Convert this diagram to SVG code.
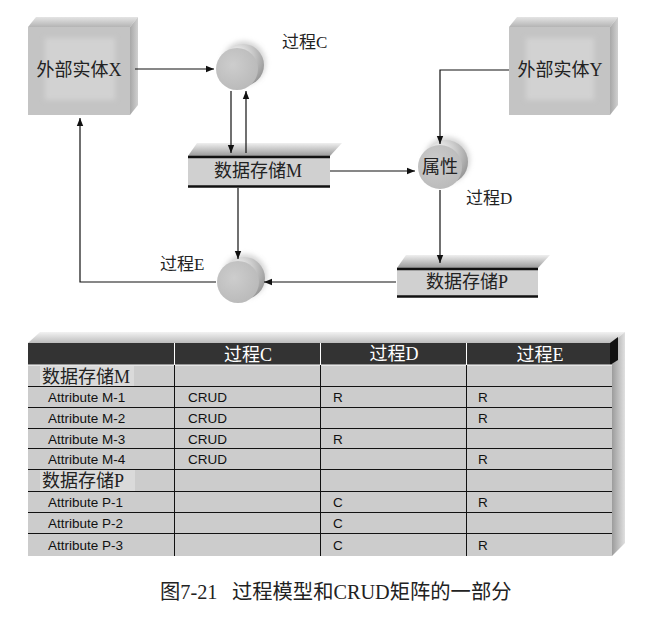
<svg xmlns="http://www.w3.org/2000/svg" width="655" height="617" viewBox="0 0 655 617">
<style>
.cjk{font-family:"Liberation Serif","Noto Sans CJK SC",serif;font-size:18px;fill:#222}
.cap{font-family:"Liberation Serif","Noto Sans CJK SC",serif;font-size:20.3px;fill:#222}
.lbl{font-family:"Liberation Serif","Noto Sans CJK SC",serif;font-size:17px;fill:#222}
.cell{font-family:"Liberation Sans",Arial,sans-serif;font-size:13.5px;fill:#111}
.hdr{font-family:"Liberation Serif","Noto Sans CJK SC",serif;font-size:18px;fill:#fff}
.conn{fill:none;stroke:#111;stroke-width:1.2}
.rowline{stroke:#111;stroke-width:1}
</style>
<defs>
<marker id="ah" viewBox="0 0 10 10" refX="10" refY="5" markerWidth="8" markerHeight="8" markerUnits="userSpaceOnUse" orient="auto">
<path d="M0,1 L10,5 L0,9 Z" fill="#111"/>
</marker>
<linearGradient id="topFace" x1="0" y1="0" x2="0" y2="1">
<stop offset="0" stop-color="#e4e4e4"/><stop offset="1" stop-color="#b4b4b4"/>
</linearGradient>
<linearGradient id="rightFace" x1="0" y1="0" x2="1" y2="0">
<stop offset="0" stop-color="#a8a8a8"/><stop offset="1" stop-color="#d0d0d0"/>
</linearGradient>
<linearGradient id="bevel" x1="0" y1="0" x2="0" y2="1">
<stop offset="0" stop-color="#efefef"/><stop offset="1" stop-color="#9a9a9a"/>
</linearGradient>
<radialGradient id="rim" cx="0.35" cy="0.3" r="0.8">
<stop offset="0" stop-color="#ffffff"/><stop offset="0.5" stop-color="#c8c8c8"/><stop offset="1" stop-color="#8e8e8e"/>
</radialGradient>
<radialGradient id="face" cx="0.4" cy="0.4" r="0.7">
<stop offset="0" stop-color="#cdcdcd"/><stop offset="1" stop-color="#b8b8b8"/>
</radialGradient>
<linearGradient id="tblTop" x1="0" y1="0" x2="0" y2="1">
<stop offset="0" stop-color="#f2f2f2"/><stop offset="1" stop-color="#bdbdbd"/>
</linearGradient>
<linearGradient id="tblRight" x1="0" y1="0" x2="1" y2="0">
<stop offset="0" stop-color="#9c9c9c"/><stop offset="1" stop-color="#e0e0e0"/>
</linearGradient>
<filter id="soft" x="-0.3" y="-0.3" width="1.6" height="1.6"><feGaussianBlur stdDeviation="2.5"/></filter>
</defs>
<rect width="655" height="617" fill="#fff"/>

<g id="entityX">
<polygon points="28,27 36,17 138,17 130,27" fill="url(#topFace)"/>
<polygon points="130,27 138,17 138,105 130,115" fill="url(#rightFace)"/>
<rect x="28" y="27" width="102" height="88" fill="#c4c4c4"/>
<rect x="45" y="38" width="70" height="62" fill="#d2d2d2" filter="url(#soft)"/>
<text class="cjk" x="79" y="76" text-anchor="middle">外部实体X</text>
</g>

<g id="entityY">
<polygon points="509,27 517,17 618,17 610,27" fill="url(#topFace)"/>
<polygon points="610,27 618,17 618,105 610,115" fill="url(#rightFace)"/>
<rect x="509" y="27" width="101" height="88" fill="#c4c4c4"/>
<rect x="526" y="38" width="68" height="62" fill="#d2d2d2" filter="url(#soft)"/>
<text class="cjk" x="560" y="76" text-anchor="middle">外部实体Y</text>
</g>

<g id="processC">
<circle cx="244" cy="63" r="22" fill="#bbb" filter="url(#soft)" opacity="0.6"/>
<circle cx="243" cy="65" r="21" fill="url(#rim)"/>
<circle cx="237" cy="69" r="21" fill="url(#face)"/>
<text class="lbl" x="282" y="48">过程C</text>
</g>

<g id="storeM">
<polygon points="188,156 197,143 342,143 330,156" fill="url(#bevel)"/>
<rect x="188" y="156" width="142" height="31" fill="#d0d0d0"/>
<line x1="188" y1="157" x2="330" y2="157" stroke="#111" stroke-width="2.5"/>
<line x1="188" y1="186.5" x2="330" y2="186.5" stroke="#111" stroke-width="2.5"/>
<text class="cjk" x="258" y="177" text-anchor="middle">数据存储M</text>
</g>

<g id="processD">
<circle cx="447" cy="160" r="23" fill="#bbb" filter="url(#soft)" opacity="0.6"/>
<circle cx="446" cy="162" r="22" fill="url(#rim)"/>
<circle cx="440" cy="167" r="22" fill="url(#face)"/>
<text class="cjk" x="440" y="173" text-anchor="middle">属性</text>
<text class="lbl" x="466" y="204">过程D</text>
</g>

<g id="storeP">
<polygon points="397,268 406,255 550,255 538,268" fill="url(#bevel)"/>
<rect x="397" y="268" width="141" height="29" fill="#d0d0d0"/>
<line x1="397" y1="269" x2="538" y2="269" stroke="#111" stroke-width="2.5"/>
<line x1="397" y1="296.5" x2="538" y2="296.5" stroke="#111" stroke-width="2.5"/>
<text class="cjk" x="467" y="288" text-anchor="middle">数据存储P</text>
</g>

<g id="processE">
<circle cx="245" cy="276" r="22" fill="#bbb" filter="url(#soft)" opacity="0.6"/>
<circle cx="244" cy="278" r="21" fill="url(#rim)"/>
<circle cx="238" cy="282" r="21" fill="url(#face)"/>
<text class="lbl" x="160" y="270">过程E</text>
</g>

<g id="connectors">
<line class="conn" x1="135" y1="69" x2="214" y2="69" marker-end="url(#ah)"/>
<line class="conn" x1="231" y1="91" x2="231" y2="153" marker-end="url(#ah)"/>
<line class="conn" x1="246" y1="153" x2="246" y2="91" marker-end="url(#ah)"/>
<line class="conn" x1="330" y1="171" x2="415" y2="171" marker-end="url(#ah)"/>
<polyline class="conn" points="509,70 440,70 440,144" marker-end="url(#ah)"/>
<line class="conn" x1="440" y1="190" x2="440" y2="263" marker-end="url(#ah)"/>
<line class="conn" x1="396" y1="282" x2="264" y2="282" marker-end="url(#ah)"/>
<line class="conn" x1="238" y1="188" x2="238" y2="259" marker-end="url(#ah)"/>
<polyline class="conn" points="216,282 80,282 80,118" marker-end="url(#ah)"/>
</g>

<g id="crudTable">
<polygon points="28,343 40,332 625,332 612,343" fill="url(#tblTop)"/>
<polygon points="612,343 625,332 625,543 612,556" fill="url(#tblRight)"/>
<rect x="28" y="365" width="584" height="191" fill="#cccccc"/>
<rect x="28" y="343" width="584" height="22" fill="#333333"/>
<polygon points="610,343 618,337 618,360 610,365" fill="#111"/>
<rect x="40" y="366" width="94" height="20" fill="#dadada"/>
<rect x="40" y="470" width="95" height="21" fill="#dadada"/>
<line x1="28" y1="365" x2="612" y2="365" stroke="#fff" stroke-width="1"/>
<g stroke="#fff" stroke-width="1">
<line x1="174.5" y1="343" x2="174.5" y2="365"/>
<line x1="320.5" y1="343" x2="320.5" y2="365"/>
<line x1="466.5" y1="343" x2="466.5" y2="365"/>
</g>
<g class="rowline">
<line x1="28" y1="386.5" x2="612" y2="386.5"/>
<line x1="28" y1="407.5" x2="612" y2="407.5"/>
<line x1="28" y1="428.5" x2="612" y2="428.5"/>
<line x1="28" y1="448.5" x2="612" y2="448.5"/>
<line x1="28" y1="469.5" x2="612" y2="469.5"/>
<line x1="28" y1="491.5" x2="612" y2="491.5"/>
<line x1="28" y1="512.5" x2="612" y2="512.5"/>
<line x1="28" y1="533.5" x2="612" y2="533.5"/>
<line x1="174.5" y1="365" x2="174.5" y2="556"/>
<line x1="320.5" y1="365" x2="320.5" y2="556"/>
<line x1="466.5" y1="365" x2="466.5" y2="556"/>
</g>
<text class="hdr" x="248" y="361" text-anchor="middle">过程C</text>
<text class="hdr" x="394" y="360" text-anchor="middle">过程D</text>
<text class="hdr" x="540" y="361" text-anchor="middle">过程E</text>
<text class="cjk" x="42" y="383">数据存储M</text>
<text class="cjk" x="42" y="487">数据存储P</text>
<text class="cell" x="48" y="402">Attribute M-1</text>
<text class="cell" x="48" y="423">Attribute M-2</text>
<text class="cell" x="48" y="444">Attribute M-3</text>
<text class="cell" x="48" y="464">Attribute M-4</text>
<text class="cell" x="48" y="507">Attribute P-1</text>
<text class="cell" x="48" y="528">Attribute P-2</text>
<text class="cell" x="48" y="550">Attribute P-3</text>
<text class="cell" x="188" y="402">CRUD</text>
<text class="cell" x="188" y="423">CRUD</text>
<text class="cell" x="188" y="444">CRUD</text>
<text class="cell" x="188" y="464">CRUD</text>
<text class="cell" x="333" y="402">R</text>
<text class="cell" x="333" y="444">R</text>
<text class="cell" x="333" y="507">C</text>
<text class="cell" x="333" y="528">C</text>
<text class="cell" x="333" y="550">C</text>
<text class="cell" x="478" y="402">R</text>
<text class="cell" x="478" y="423">R</text>
<text class="cell" x="478" y="464">R</text>
<text class="cell" x="478" y="507">R</text>
<text class="cell" x="478" y="550">R</text>
</g>

<g id="caption">
<text class="cap" x="160" y="599">图7-21</text>
<text class="cap" x="232" y="599">过程模型和CRUD矩阵的一部分</text>
</g>
</svg>
